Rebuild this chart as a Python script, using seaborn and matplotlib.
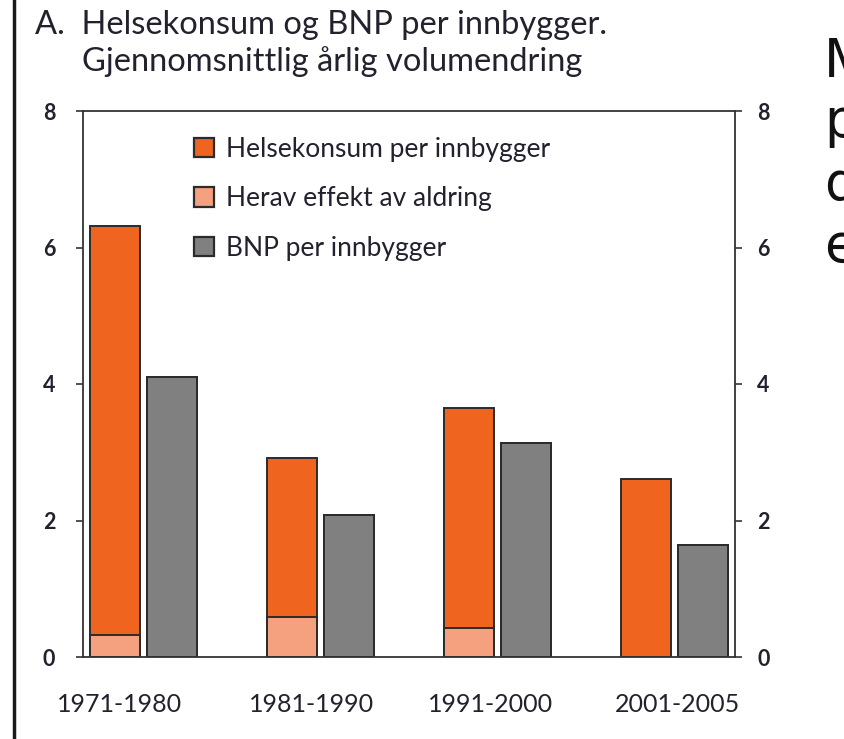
import matplotlib
matplotlib.use("Agg")
import matplotlib.pyplot as plt
import seaborn as sns
import pandas as pd
import numpy as np
from matplotlib.patches import Patch

periods = ["1971-1980", "1981-1990", "1991-2000", "2001-2005"]
helse = [6.31, 2.92, 3.65, 2.61]
aldring = [0.32, 0.59, 0.42, np.nan]
bnp = [4.10, 2.08, 3.14, 1.64]
series_names = ["Helsekonsum per innbygger", "Herav effekt av aldring", "BNP per innbygger"]
yticks = [0, 2, 4, 6, 8]

c_orange = "#EF6520"
c_salmon = "#F5A07F"
c_grey = "#808080"
edge = "#2b2b2b"
txt = "#22222e"

sns.set_style("white")
plt.rcParams["font.family"] = ["Lato", "DejaVu Sans"]

fig = plt.figure(figsize=(8.44, 7.39), dpi=100)
ax = fig.add_axes([83/844, 1-657/739, (735-83)/844, (657-111)/739])

hue_order = [series_names[0], series_names[2]]
df_main = pd.DataFrame({
    "period": periods * 2,
    "series": [series_names[0]] * 4 + [series_names[2]] * 4,
    "value": helse + bnp,
})
sns.barplot(data=df_main, x="period", y="value", hue="series", hue_order=hue_order,
            order=periods, palette=[c_orange, c_grey], width=0.64, gap=0.12,
            edgecolor=edge, linewidth=1.4, legend=False, ax=ax, saturation=1)

# overlay: ageing part of health consumption (grey bars redrawn identically to keep dodge)
df_age = pd.DataFrame({
    "period": periods * 2,
    "series": [series_names[0]] * 4 + [series_names[2]] * 4,
    "value": aldring + bnp,
}).dropna()
sns.barplot(data=df_age, x="period", y="value", hue="series", hue_order=hue_order,
            order=periods, palette=[c_salmon, c_grey], width=0.64, gap=0.12,
            edgecolor=edge, linewidth=1.4, legend=False, ax=ax, saturation=1)

ax.set_xlim(-0.34, 3.34)
ax.set_ylim(0, 8)
ax.set_yticks(yticks)
# label centres sit slightly off the group centres in the reference
label_pos = [(px - 83) / 177 - 0.34 for px in (119, 311, 490, 677)]
ax.set_xticks(label_pos)
ax.set_xticklabels(periods)
ax.set_xlabel("")
ax.set_ylabel("")
for s in ax.spines.values():
    s.set_visible(True)
    s.set_color("#333333")
    s.set_linewidth(1.3)
ax.tick_params(axis="y", direction="out", length=5, width=1.2, color="#333333",
               labelsize=15.5, labelcolor=txt, pad=15, left=True)
ax.tick_params(axis="x", length=0, labelsize=18, labelcolor=txt, pad=26)
for lab in ax.get_yticklabels():
    lab.set_fontweight("bold")

ax2 = ax.twinx()
ax2.set_ylim(0, 8)
ax2.set_yticks(yticks)
ax2.tick_params(axis="y", direction="out", length=5, width=1.2, color="#333333",
                labelsize=15.5, labelcolor=txt, pad=11, right=True)
for lab in ax2.get_yticklabels():
    lab.set_fontweight("bold")
for s in ax2.spines.values():
    s.set_visible(False)

handles = [Patch(facecolor=c, edgecolor=edge, linewidth=1.6) for c in [c_orange, c_salmon, c_grey]]
ax.legend(handles, series_names, loc="upper left", bbox_to_anchor=((194-83)/652, 1-(137-111)/546),
          frameon=False, fontsize=19, handlelength=0.75, handleheight=0.75, labelspacing=0.92,
          handletextpad=0.45, borderaxespad=0, borderpad=0, labelcolor=txt)

fig.text(35/844, 1-25/739, "A.  Helsekonsum og BNP per innbygger.", fontsize=23.5, color=txt,
         ha="left", va="center")
fig.text(82/844, 1-62/739, "Gjennomsnittlig årlig volumendring", fontsize=23.5, color=txt,
         ha="left", va="center")

# left border line
fig.add_artist(plt.Line2D([14/844, 14/844], [0, 1], transform=fig.transFigure, color="#1a1a1a", lw=2.5))

# neighbouring text, cropped at the right edge as in the reference
for ch, yy in zip(["M", "p", "d", "e"], [62, 122, 185, 247]):
    fig.text(824/844, 1-yy/739, ch, fontsize=38, color="#111111", ha="left", va="center",
             family=["Liberation Sans Narrow", "DejaVu Sans"])

fig.savefig("out.png", dpi=100)
